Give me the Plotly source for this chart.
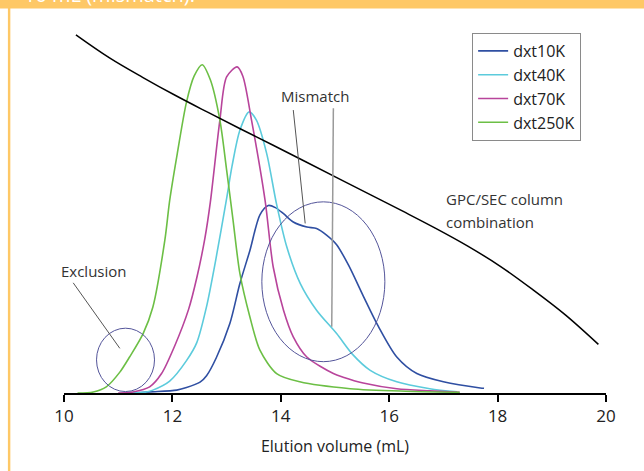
import plotly.graph_objects as go

# ---- data (elution volume in mL, relative detector response 0-1) ----
x_10k = [11.3, 11.58, 12.08, 12.26, 12.51, 12.63, 12.81, 13.06, 13.245, 13.43, 13.615,
         13.77, 13.90, 14.05, 14.23, 14.48, 14.66, 14.85, 15.03, 15.25, 15.52, 15.80, 16.14,
         16.51, 17.0, 17.68, 17.75]
y_10k = [0.0, 0.003, 0.008, 0.015, 0.03, 0.048, 0.098, 0.193, 0.304, 0.396, 0.495,
         0.521, 0.515, 0.498, 0.475, 0.461, 0.457, 0.438, 0.412, 0.355, 0.27, 0.185, 0.10,
         0.054, 0.031, 0.014, 0.013]

x_40k = [11.2, 11.52, 11.64, 11.95, 12.26, 12.45, 12.63, 12.80, 13.00, 13.10, 13.245, 13.417,
         13.55, 13.74, 13.92, 14.11, 14.36, 14.66, 15.03, 15.32, 15.65, 16.14, 16.75, 17.25]
y_40k = [0.0, 0.003, 0.008, 0.033, 0.09, 0.14, 0.24, 0.37, 0.54, 0.63, 0.73, 0.781,
         0.758, 0.665, 0.526, 0.406, 0.304, 0.23, 0.165, 0.108, 0.063, 0.031, 0.012, 0.003]

x_70k = [11.0, 11.27, 11.58, 11.80, 12.04, 12.30, 12.45, 12.60, 12.70, 12.876, 13.00, 13.195,
         13.30, 13.46, 13.71, 13.86, 14.05, 14.23, 14.48, 14.97, 15.15, 15.52, 16.14, 16.75, 17.3]
y_70k = [0.0, 0.003, 0.017, 0.054, 0.13, 0.233, 0.32, 0.43, 0.53, 0.758, 0.878, 0.906,
         0.88, 0.758, 0.535, 0.35, 0.23, 0.156, 0.10, 0.054, 0.044, 0.028, 0.012, 0.006, 0.002]

x_250k = [10.25, 10.54, 10.78, 11.03, 11.21, 11.46, 11.64, 11.86, 11.95, 12.09, 12.26, 12.40,
          12.549, 12.70, 12.876, 13.00, 13.12, 13.245, 13.43, 13.615, 13.923, 14.35, 15.28,
          16.3, 17.3]
y_250k = [0.0, 0.003, 0.017, 0.058, 0.10, 0.165, 0.239, 0.424, 0.535, 0.665, 0.808, 0.88,
          0.912, 0.87, 0.758, 0.62, 0.479, 0.332, 0.211, 0.119, 0.054, 0.031, 0.012,
          0.005, 0.002]

x_cal = [10.22, 10.84, 11.45, 12.05, 12.65, 13.25, 13.85, 14.45, 15.05, 15.65, 16.25,
         16.85, 17.45, 18.05, 18.65, 19.25, 19.86]
y_cal = [0.995, 0.931, 0.877, 0.827, 0.780, 0.734, 0.689, 0.643, 0.597, 0.551, 0.505,
         0.458, 0.408, 0.352, 0.287, 0.217, 0.135]

series_names = ["dxt10K", "dxt40K", "dxt70K", "dxt250K"]
series_colors = ["#2f4fa2", "#5ccbdc", "#b8449b", "#6cbf45"]
x_ticks = [10, 12, 14, 16, 18, 20]

FONT = "Open Sans"

fig = go.Figure()
for name, xs, ys, col in zip(series_names, [x_10k, x_40k, x_70k, x_250k],
                             [y_10k, y_40k, y_70k, y_250k], series_colors):
    fig.add_trace(go.Scatter(x=xs, y=ys, mode="lines", name=name,
                             line=dict(color=col, width=1.6, shape="spline", smoothing=0.8)))

fig.add_trace(go.Scatter(x=x_cal, y=y_cal, mode="lines", showlegend=False,
                         line=dict(color="black", width=1.5, shape="spline", smoothing=1.0)))

shapes = []
# ellipses
shapes.append(dict(type="circle", xref="x", yref="y", x0=10.60, x1=11.67, y0=0.004, y1=0.18,
                   line=dict(color="#54559a", width=1)))
shapes.append(dict(type="circle", xref="x", yref="y", x0=13.65, x1=15.92, y0=0.087, y1=0.531,
                   line=dict(color="#54559a", width=1)))
# leader lines
shapes.append(dict(type="line", xref="x", yref="y", x0=10.17, y0=0.306, x1=11.03, y1=0.124,
                   line=dict(color="#555555", width=1)))
shapes.append(dict(type="line", xref="x", yref="y", x0=14.23, y0=0.786, x1=14.45, y1=0.471,
                   line=dict(color="#555555", width=1)))
shapes.append(dict(type="line", xref="x", yref="y", x0=14.97, y0=0.791, x1=14.94, y1=0.184,
                   line=dict(color="#9a9a9a", width=1.5)))
# orange frame (banner + left border)
shapes.append(dict(type="rect", xref="paper", yref="paper", x0=-0.2, x1=1.2, y0=1.068, y1=1.2,
                   fillcolor="#fec866", line=dict(width=0), layer="below"))
shapes.append(dict(type="rect", xref="paper", yref="paper", x0=-0.1035, x1=-0.0990, y0=-0.4, y1=1.07,
                   fillcolor="#fec866", line=dict(width=0), layer="below"))

annotations = [
    dict(text="Exclusion", x=10.553, y=0.339, xref="x", yref="y", showarrow=False,
         font=dict(family=FONT, size=15, color="#333333")),
    dict(text="Mismatch", x=14.64, y=0.825, xref="x", yref="y", showarrow=False,
         font=dict(family=FONT, size=15, color="#333333")),
    dict(text="GPC/SEC column", x=17.02, y=0.538, xref="x", yref="y", showarrow=False,
         xanchor="left", font=dict(family=FONT, size=15, color="#333333")),
    dict(text="combination", x=17.02, y=0.474, xref="x", yref="y", showarrow=False,
         xanchor="left", font=dict(family=FONT, size=15, color="#333333")),
    dict(text="10 mL (mismatch).", x=-0.078, y=1.063, xref="paper", yref="paper",
         xanchor="left", yanchor="bottom", showarrow=False,
         font=dict(family=FONT, size=20, color="white")),
]

fig.update_layout(
    width=644, height=471,
    margin=dict(l=64, r=38, t=33, b=78),
    paper_bgcolor="white", plot_bgcolor="white",
    font=dict(family=FONT, color="#222222"),
    shapes=shapes, annotations=annotations,
    legend=dict(x=0.753, y=1.0, xanchor="left", yanchor="top",
                bordercolor="#8a8a8a", borderwidth=1, bgcolor="white",
                font=dict(family=FONT, size=16, color="#222222"),
                itemwidth=30, tracegroupgap=0),
    xaxis=dict(range=[10, 20], tickmode="array", tickvals=x_ticks,
               ticktext=[str(t) for t in x_ticks],
               showline=True, linecolor="black", linewidth=2,
               ticks="outside", ticklen=7, tickwidth=1.5, tickcolor="black",
               showgrid=False, zeroline=False,
               tickfont=dict(family=FONT, size=17, color="#222222"),
               title=dict(text="Elution volume (mL)", standoff=14,
                          font=dict(family=FONT, size=16, color="#222222"))),
    yaxis=dict(range=[0, 1], visible=False, showgrid=False, zeroline=False),
)

fig.write_html("out.html")
